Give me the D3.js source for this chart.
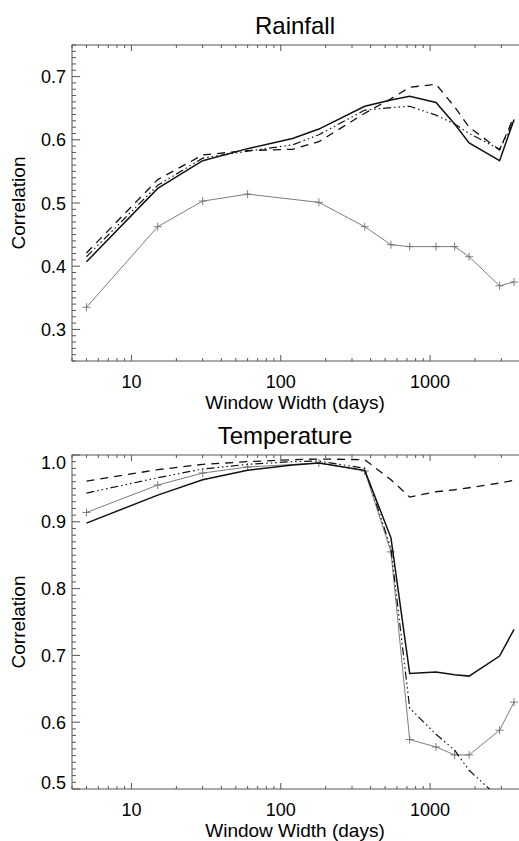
<!DOCTYPE html>
<html><head><meta charset="utf-8">
<script src="https://cdn.jsdelivr.net/npm/d3@7"></script>
<style>
body{margin:0;background:#fff;}
svg{display:block;font-family:"Liberation Sans",Arial,sans-serif;}
</style></head>
<body>
<svg id="chart" width="519" height="841"></svg>
<script>
// ---- data ----
const windowDays = [5, 15, 30, 60, 120, 180, 365, 547, 730, 1095, 1460, 1825, 2920, 3650];
const markerDays = [5, 15, 30, 60, 180, 365, 547, 730, 1095, 1460, 1825, 2920, 3650];

const rainSolid   = [0.407, 0.523, 0.567, 0.586, 0.602, 0.617, 0.653, 0.663, 0.669, 0.659, 0.625, 0.595, 0.567, 0.632];
const rainDashed  = [0.421, 0.537, 0.576, 0.583, 0.585, 0.597, 0.642, 0.665, 0.683, 0.688, 0.652, 0.620, 0.584, 0.637];
const rainDashDot = [0.415, 0.528, 0.571, 0.582, 0.592, 0.608, 0.647, 0.651, 0.653, 0.639, 0.625, 0.610, 0.585, 0.630];
const rainGray    = [0.335, 0.4625, 0.503, 0.514, 0.501, 0.4625, 0.434, 0.431, 0.431, 0.431, 0.415, 0.369, 0.375];

const tempSolid   = [0.898, 0.940, 0.963, 0.977, 0.985, 0.988, 0.977, 0.876, 0.673, 0.675, 0.671, 0.669, 0.699, 0.739];
const tempDashed  = [0.961, 0.978, 0.986, 0.990, 0.993, 0.994, 0.993, 0.963, 0.937, 0.945, 0.948, 0.951, 0.958, 0.962];
const tempDashDot = [0.943, 0.966, 0.979, 0.986, 0.990, 0.991, 0.980, 0.860, 0.621, 0.582, 0.558, 0.528, 0.486, 0.470];
const tempGray    = [0.914, 0.955, 0.973, 0.982, 0.988, 0.976, 0.855, 0.574, 0.563, 0.551, 0.551, 0.588, 0.630];

const xTickValues = [10, 100, 1000];
const rainYTicks = [0.3, 0.4, 0.5, 0.6, 0.7];
const tempYTicks = [0.5, 0.6, 0.7, 0.8, 0.9, 1.0];

const titles = ["Rainfall", "Temperature"];
const xTitle = "Window Width (days)";
const yTitle = "Correlation";

// ---- drawing ----
const svg = d3.select("#chart");
const left = 72, right = 520;

function panel(opts) {
  const {top, bottom, yDomain, yTicks, solid, dashed, dashdot, gray, title, titleX, id, endShift} = opts;
  const x = d3.scaleLog().domain([4, 4000]).range([left, right]);
  const y = d3.scaleLinear().domain(yDomain).range([bottom, top]);
  const g = svg.append("g");

  g.append("clipPath").attr("id", id).append("rect")
    .attr("x", left).attr("y", top).attr("width", right - left).attr("height", bottom - top);

  const axisColor = "#555";
  g.append("rect").attr("x", left).attr("y", top).attr("width", right - left).attr("height", bottom - top)
    .attr("fill", "none").attr("stroke", axisColor).attr("stroke-width", 1);

  const minorX = [];
  for (let d = 1; d <= 1000; d *= 10) for (let k = 1; k <= 9; k++) { const v = d * k; if (v >= 4 && v <= 4000) minorX.push(v); }
  minorX.forEach(v => {
    const major = xTickValues.includes(v);
    const len = major ? 6 : 3;
    g.append("line").attr("x1", x(v)).attr("x2", x(v)).attr("y1", bottom).attr("y2", bottom - len).attr("stroke", axisColor);
    g.append("line").attr("x1", x(v)).attr("x2", x(v)).attr("y1", top).attr("y2", top + len).attr("stroke", axisColor);
  });
  const yMinor = d3.range(Math.round(yDomain[0] * 100), Math.round(yDomain[1] * 100) + 1).map(v => v / 100);
  yMinor.forEach(v => {
    const major = yTicks.some(t => Math.abs(t - v) < 1e-9);
    const len = major ? 8 : 4;
    g.append("line").attr("x1", left).attr("x2", left + len).attr("y1", y(v)).attr("y2", y(v)).attr("stroke", axisColor);
  });

  g.selectAll(".xl").data(xTickValues).enter().append("text")
    .attr("x", d => x(d)).attr("y", bottom + 26.5).attr("text-anchor", "middle")
    .attr("font-size", 18).attr("fill", "#000").text(d => d);
  g.selectAll(".yl").data(yTicks).enter().append("text")
    .attr("x", left - 6).attr("y", d => {
      let yy = y(d) + 6.5;
      if (endShift && Math.abs(d - yDomain[0]) < 1e-9) yy -= 7;
      if (endShift && Math.abs(d - yDomain[1]) < 1e-9) yy += 7;
      return yy;
    })
    .attr("text-anchor", "end").attr("font-size", 18).attr("fill", "#000").text(d => d.toFixed(1));

  g.append("text").attr("x", titleX).attr("y", top - 11.5).attr("text-anchor", "middle")
    .attr("font-size", 24).attr("fill", "#000").text(title);
  g.append("text").attr("x", 295).attr("y", bottom + 47.5).attr("text-anchor", "middle")
    .attr("font-size", 19).attr("fill", "#000").text(xTitle);
  g.append("text").attr("transform", `translate(25,${(top + bottom) / 2}) rotate(-90)`)
    .attr("text-anchor", "middle").attr("font-size", 19).attr("fill", "#000").text(yTitle);

  const line = d3.line().x(d => x(d[0])).y(d => y(d[1]));
  const lg = g.append("g").attr("clip-path", `url(#${id})`);
  const pairs = (xs, ys) => xs.map((v, i) => [v, ys[i]]);

  lg.append("path").datum(pairs(markerDays, gray)).attr("d", line)
    .attr("fill", "none").attr("stroke", "#6e6e6e").attr("stroke-width", 0.9);
  lg.selectAll(".mk").data(pairs(markerDays, gray)).enter().append("path")
    .attr("d", d => { const cx = x(d[0]), cy = y(d[1]); return `M${cx-4},${cy}H${cx+4}M${cx},${cy-4}V${cy+4}`; })
    .attr("stroke", "#6e6e6e").attr("stroke-width", 0.9);

  lg.append("path").datum(pairs(windowDays, dashdot)).attr("d", line)
    .attr("fill", "none").attr("stroke", "#111").attr("stroke-width", 1.2)
    .attr("stroke-dasharray", "8,3,1.5,3,1.5,3,1.5,3");
  lg.append("path").datum(pairs(windowDays, dashed)).attr("d", line)
    .attr("fill", "none").attr("stroke", "#111").attr("stroke-width", 1.3)
    .attr("stroke-dasharray", "8,6");
  lg.append("path").datum(pairs(windowDays, solid)).attr("d", line)
    .attr("fill", "none").attr("stroke", "#111").attr("stroke-width", 1.5);
}

panel({top: 45, bottom: 361, yDomain: [0.25, 0.75], yTicks: rainYTicks,
  solid: rainSolid, dashed: rainDashed, dashdot: rainDashDot, gray: rainGray,
  title: titles[0], titleX: 295, id: "clipRain", endShift: false});
panel({top: 455, bottom: 789, yDomain: [0.5, 1.0], yTicks: tempYTicks,
  solid: tempSolid, dashed: tempDashed, dashdot: tempDashDot, gray: tempGray,
  title: titles[1], titleX: 285, id: "clipTemp", endShift: true});
</script>
</body></html>
